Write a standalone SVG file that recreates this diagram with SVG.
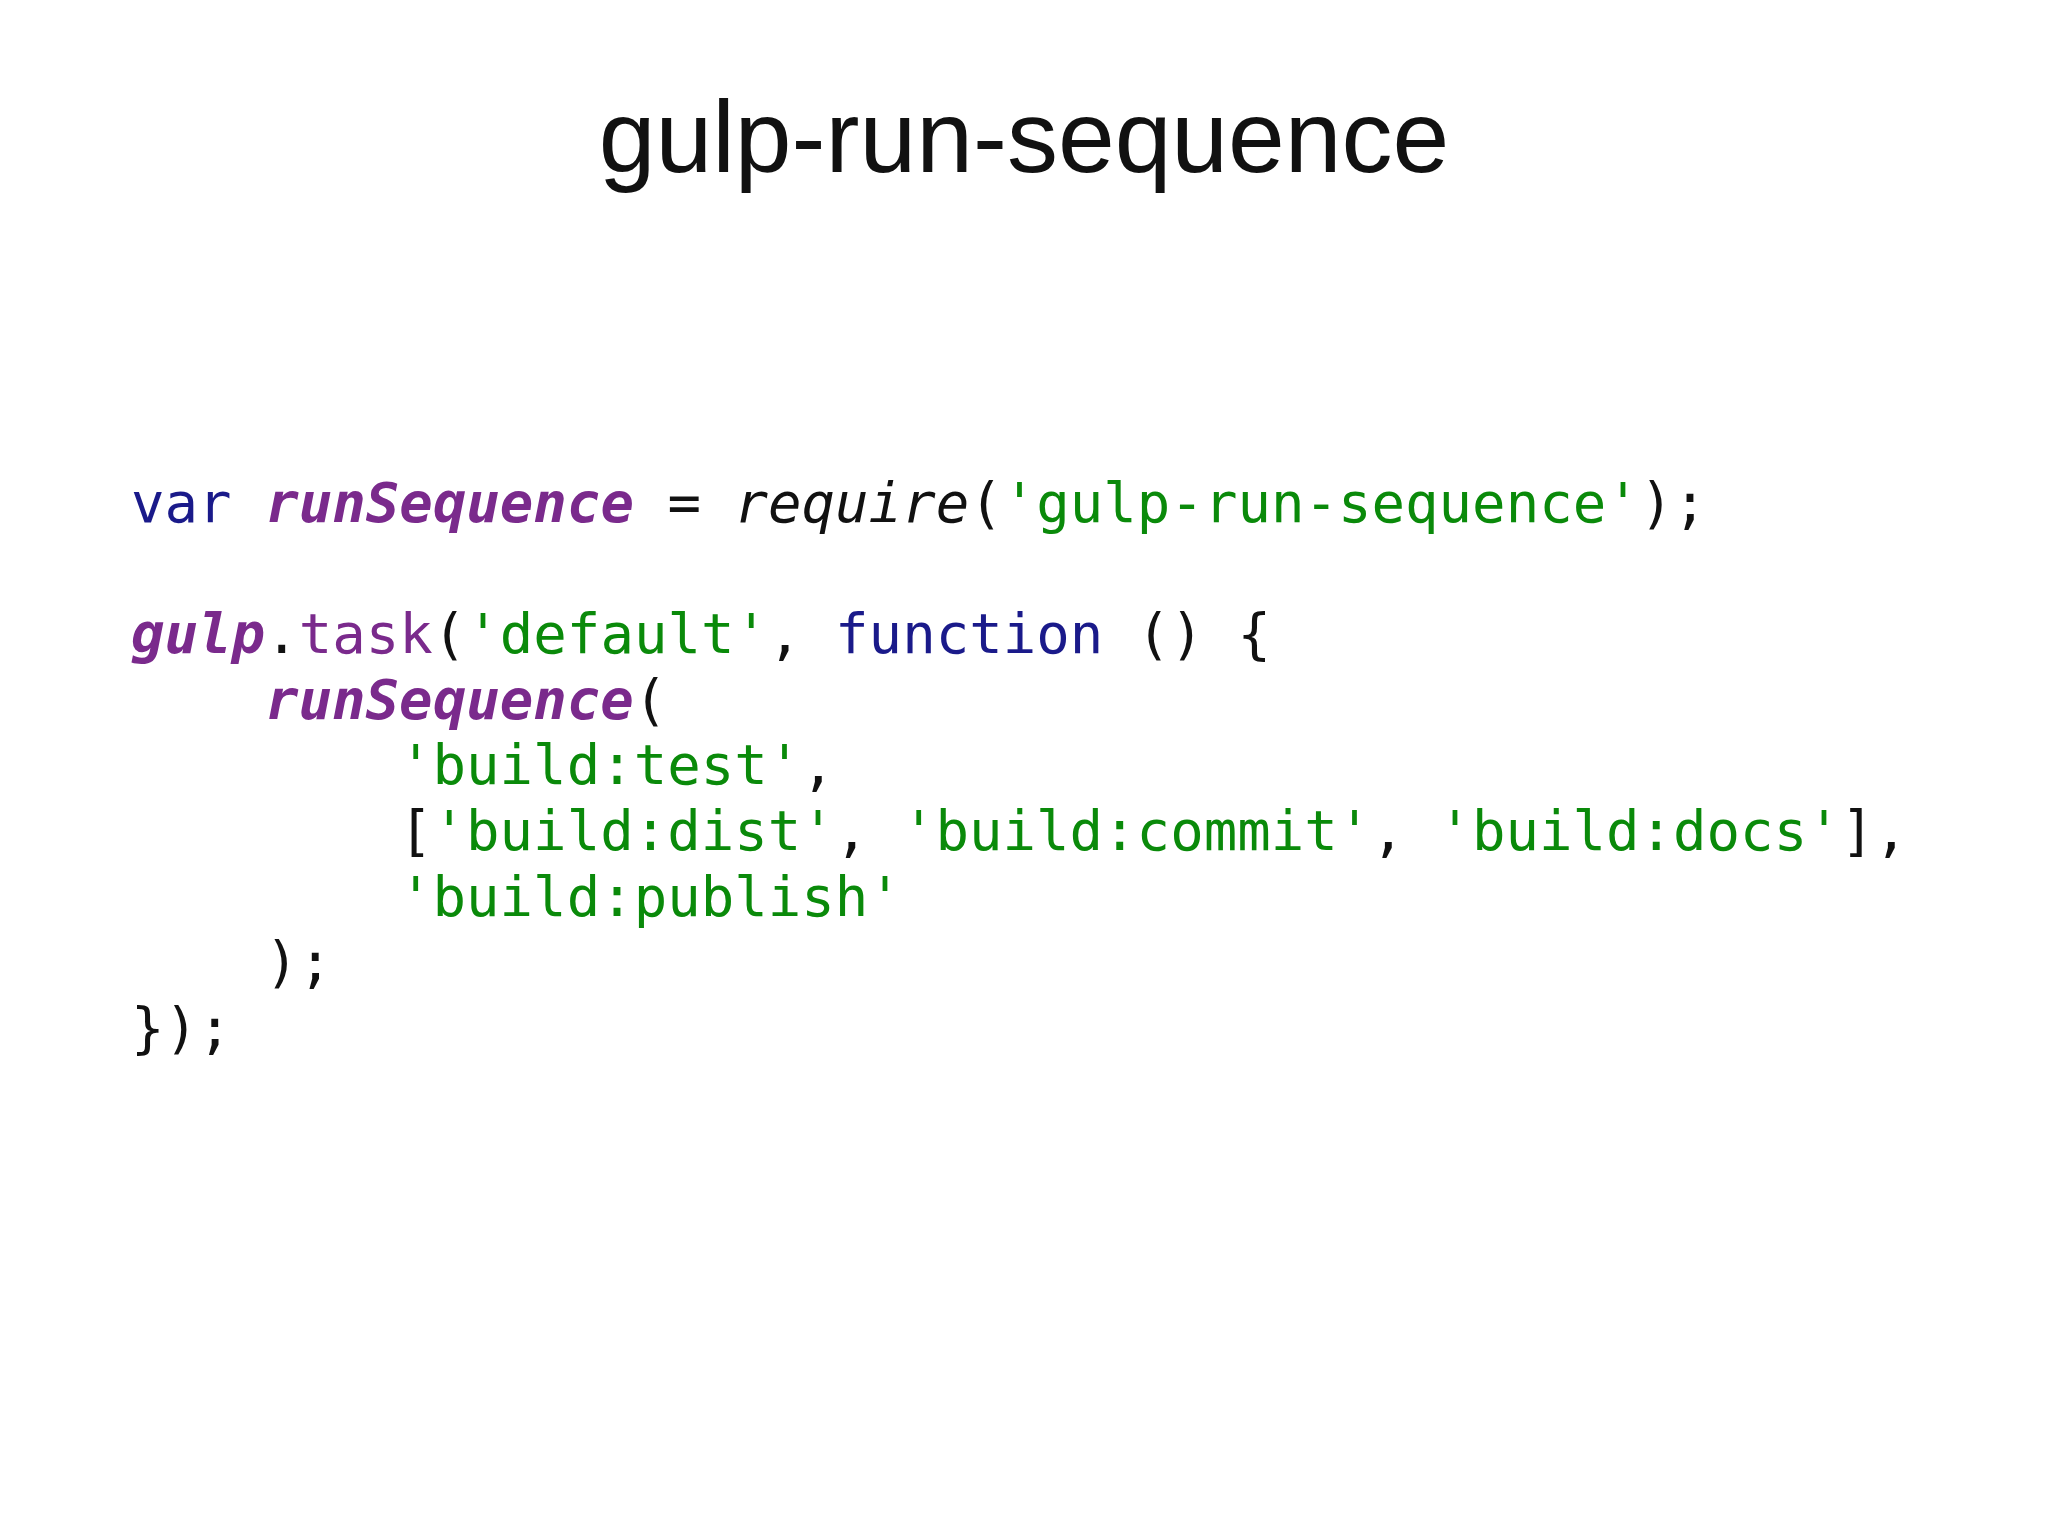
<svg xmlns="http://www.w3.org/2000/svg" width="2048" height="1536" viewBox="0 0 2048 1536">
<style>
.c{font-family:"DejaVu Sans Mono","Liberation Mono",monospace;font-size:55.7px;fill:#111;white-space:pre}
.k{fill:#1a1a8a}.p{fill:#7a2a8c;font-weight:bold;font-style:italic}.t{fill:#7a2a8c}.s{fill:#0a8a0a}.i{font-style:italic}
</style>
<rect width="2048" height="1536" fill="#fff"/>
<g id="title"><text x="1024" y="172" text-anchor="middle" font-family="Liberation Sans, Arial, sans-serif" font-size="102" fill="#111">gulp-run-sequence</text></g>
<g id="code" class="c">
<text x="131" y="522"><tspan class="k">var</tspan> <tspan class="p">runSequence</tspan> = <tspan class="i">require</tspan>(<tspan class="s">'gulp-run-sequence'</tspan>);</text>
<text x="131" y="653"><tspan class="p">gulp</tspan>.<tspan class="t">task</tspan>(<tspan class="s">'default'</tspan>, <tspan class="k">function</tspan> () {</text>
<text x="265" y="719"><tspan class="p">runSequence</tspan>(</text>
<text x="399" y="784"><tspan class="s">'build:test'</tspan>,</text>
<text x="399" y="850">[<tspan class="s">'build:dist'</tspan>, <tspan class="s">'build:commit'</tspan>, <tspan class="s">'build:docs'</tspan>],</text>
<text x="399" y="916"><tspan class="s">'build:publish'</tspan></text>
<text x="265" y="981">);</text>
<text x="131" y="1047">});</text>
</g>
</svg>
